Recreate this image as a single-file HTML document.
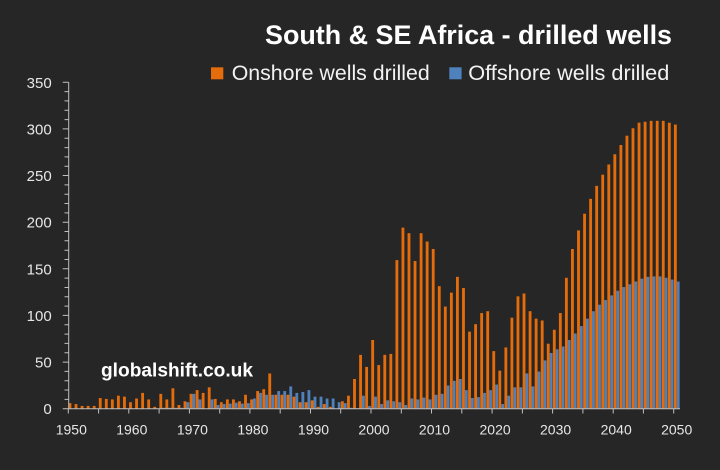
<!DOCTYPE html>
<html><head><meta charset="utf-8"><style>
html,body{margin:0;padding:0;background:#262626;}
svg{display:block;}
</style></head><body>
<svg width="720" height="470" viewBox="0 0 720 470" xmlns="http://www.w3.org/2000/svg" font-family="Liberation Sans, Arial, sans-serif">
<rect width="720" height="470" fill="#262626"/>
<text x="265" y="44" font-size="27" font-weight="bold" fill="#ffffff" textLength="407" lengthAdjust="spacingAndGlyphs">South &amp; SE Africa - drilled wells</text>
<rect x="211" y="67.3" width="12.3" height="12" fill="#E46C0A"/>
<text x="231.7" y="80" font-size="21.5" fill="#f2f2f2" textLength="198" lengthAdjust="spacingAndGlyphs">Onshore wells drilled</text>
<rect x="449.3" y="67.3" width="12.3" height="12" fill="#4F81BD"/>
<text x="468.3" y="80" font-size="21.5" fill="#f2f2f2" textLength="201" lengthAdjust="spacingAndGlyphs">Offshore wells drilled</text>

<text x="101" y="376.7" font-size="19" font-weight="bold" fill="#ffffff" textLength="152" lengthAdjust="spacingAndGlyphs">globalshift.co.uk</text>

<g transform="translate(68.3,408.7) scale(6.054,-0.9286)">
<g fill="#4F81BD">
<rect x="15.51" width="0.47" height="1"/><rect x="16.51" width="0.47" height="1"/><rect x="17.51" width="0.47" height="1"/><rect x="18.51" width="0.47" height="1"/>
<rect x="19.51" width="0.47" height="7"/><rect x="20.51" width="0.47" height="16"/><rect x="21.51" width="0.47" height="10"/>
<rect x="23.51" width="0.47" height="10"/><rect x="24.51" width="0.47" height="4"/><rect x="25.51" width="0.47" height="5"/><rect x="26.51" width="0.47" height="5.5"/>
<rect x="27.51" width="0.47" height="6.5"/><rect x="28.51" width="0.47" height="5.5"/><rect x="29.51" width="0.47" height="6"/><rect x="30.51" width="0.47" height="11"/>
<rect x="31.51" width="0.47" height="17"/><rect x="32.51" width="0.47" height="15"/><rect x="33.51" width="0.47" height="15"/><rect x="34.51" width="0.47" height="19"/>
<rect x="35.51" width="0.47" height="19"/><rect x="36.51" width="0.47" height="24"/><rect x="37.51" width="0.47" height="17"/><rect x="38.51" width="0.47" height="18"/>
<rect x="39.51" width="0.47" height="20"/><rect x="40.51" width="0.47" height="13"/><rect x="41.51" width="0.47" height="13"/><rect x="42.51" width="0.47" height="11"/>
<rect x="43.51" width="0.47" height="11"/><rect x="44.51" width="0.47" height="7"/><rect x="45.51" width="0.47" height="6"/><rect x="46.51" width="0.47" height="1"/>
<rect x="47.51" width="0.47" height="0.5"/><rect x="48.51" width="0.47" height="14"/><rect x="49.51" width="0.47" height="3"/><rect x="50.51" width="0.47" height="13"/>
<rect x="51.51" width="0.47" height="5"/><rect x="52.51" width="0.47" height="9"/><rect x="53.51" width="0.47" height="8"/><rect x="54.51" width="0.47" height="7"/>
<rect x="55.51" width="0.47" height="4"/><rect x="56.51" width="0.47" height="11"/><rect x="57.51" width="0.47" height="10"/><rect x="58.51" width="0.47" height="12"/>
<rect x="59.51" width="0.47" height="10"/><rect x="60.51" width="0.47" height="15"/><rect x="61.51" width="0.47" height="16"/><rect x="62.51" width="0.47" height="25"/>
<rect x="63.51" width="0.47" height="30"/><rect x="64.51" width="0.47" height="32"/><rect x="65.51" width="0.47" height="20"/><rect x="66.51" width="0.47" height="11.5"/>
<rect x="67.51" width="0.47" height="12.5"/><rect x="68.51" width="0.47" height="17"/><rect x="69.51" width="0.47" height="20"/><rect x="70.51" width="0.47" height="26"/>
<rect x="71.51" width="0.47" height="5"/><rect x="72.51" width="0.47" height="14"/><rect x="73.51" width="0.47" height="23"/><rect x="74.51" width="0.47" height="23"/>
<rect x="75.51" width="0.47" height="38"/><rect x="76.51" width="0.47" height="24"/><rect x="77.51" width="0.47" height="40"/><rect x="78.51" width="0.47" height="52"/>
<rect x="79.51" width="0.47" height="60"/><rect x="80.51" width="0.47" height="64"/><rect x="81.51" width="0.47" height="67"/><rect x="82.51" width="0.47" height="74"/>
<rect x="83.51" width="0.47" height="81"/><rect x="84.51" width="0.47" height="89"/><rect x="85.51" width="0.47" height="97"/><rect x="86.51" width="0.47" height="105"/>
<rect x="87.51" width="0.47" height="112"/><rect x="88.51" width="0.47" height="117"/><rect x="89.51" width="0.47" height="122"/><rect x="90.51" width="0.47" height="127"/>
<rect x="91.51" width="0.47" height="131"/><rect x="92.51" width="0.47" height="134"/><rect x="93.51" width="0.47" height="137"/><rect x="94.51" width="0.47" height="140"/>
<rect x="95.51" width="0.47" height="142"/><rect x="96.51" width="0.47" height="142.5"/><rect x="97.51" width="0.47" height="142.5"/><rect x="98.51" width="0.47" height="141"/>
<rect x="99.51" width="0.47" height="139"/><rect x="100.51" width="0.47" height="137"/>
</g>
<g fill="#E46C0A">
<rect x="0.04" width="0.47" height="6"/><rect x="1.04" width="0.47" height="5"/><rect x="2.04" width="0.47" height="3"/><rect x="3.04" width="0.47" height="3"/>
<rect x="4.04" width="0.47" height="3"/><rect x="5.04" width="0.47" height="11.5"/><rect x="6.04" width="0.47" height="10.5"/><rect x="7.04" width="0.47" height="10"/>
<rect x="8.04" width="0.47" height="14"/><rect x="9.04" width="0.47" height="13"/><rect x="10.04" width="0.47" height="7"/><rect x="11.04" width="0.47" height="11"/>
<rect x="12.04" width="0.47" height="17"/><rect x="13.04" width="0.47" height="10"/><rect x="14.04" width="0.47" height="2"/><rect x="15.04" width="0.47" height="16"/>
<rect x="16.04" width="0.47" height="10"/><rect x="17.04" width="0.47" height="22"/><rect x="18.04" width="0.47" height="4"/><rect x="19.04" width="0.47" height="8"/>
<rect x="20.04" width="0.47" height="16"/><rect x="21.04" width="0.47" height="20"/><rect x="22.04" width="0.47" height="17"/><rect x="23.04" width="0.47" height="23"/>
<rect x="24.04" width="0.47" height="10.5"/><rect x="25.04" width="0.47" height="7"/><rect x="26.04" width="0.47" height="10"/><rect x="27.04" width="0.47" height="10"/>
<rect x="28.04" width="0.47" height="8"/><rect x="29.04" width="0.47" height="15"/><rect x="30.04" width="0.47" height="10"/><rect x="31.04" width="0.47" height="19"/>
<rect x="32.04" width="0.47" height="21"/><rect x="33.04" width="0.47" height="38"/><rect x="34.04" width="0.47" height="15"/><rect x="35.04" width="0.47" height="15"/>
<rect x="36.04" width="0.47" height="15"/><rect x="37.04" width="0.47" height="13"/><rect x="38.04" width="0.47" height="7"/><rect x="39.04" width="0.47" height="7"/>
<rect x="40.04" width="0.47" height="9"/><rect x="41.04" width="0.47" height="2"/><rect x="42.04" width="0.47" height="5"/><rect x="43.04" width="0.47" height="2"/>
<rect x="45.04" width="0.47" height="8"/><rect x="46.04" width="0.47" height="14"/><rect x="47.04" width="0.47" height="32"/>
<rect x="48.04" width="0.47" height="58"/><rect x="49.04" width="0.47" height="45"/><rect x="50.04" width="0.47" height="74"/><rect x="51.04" width="0.47" height="47"/>
<rect x="52.04" width="0.47" height="58"/><rect x="53.04" width="0.47" height="59"/><rect x="54.04" width="0.47" height="160"/><rect x="55.04" width="0.47" height="195"/>
<rect x="56.04" width="0.47" height="189"/><rect x="57.04" width="0.47" height="159"/><rect x="58.04" width="0.47" height="189"/><rect x="59.04" width="0.47" height="180"/>
<rect x="60.04" width="0.47" height="172"/><rect x="61.04" width="0.47" height="132"/><rect x="62.04" width="0.47" height="110"/><rect x="63.04" width="0.47" height="125"/>
<rect x="64.04" width="0.47" height="142"/><rect x="65.04" width="0.47" height="130"/><rect x="66.04" width="0.47" height="83"/><rect x="67.04" width="0.47" height="91"/>
<rect x="68.04" width="0.47" height="103"/><rect x="69.04" width="0.47" height="105"/><rect x="70.04" width="0.47" height="62"/><rect x="71.04" width="0.47" height="41"/>
<rect x="72.04" width="0.47" height="66"/><rect x="73.04" width="0.47" height="98"/><rect x="74.04" width="0.47" height="121"/><rect x="75.04" width="0.47" height="124"/>
<rect x="76.04" width="0.47" height="105"/><rect x="77.04" width="0.47" height="97"/><rect x="78.04" width="0.47" height="95"/><rect x="79.04" width="0.47" height="70"/>
<rect x="80.04" width="0.47" height="85"/><rect x="81.04" width="0.47" height="103"/><rect x="82.04" width="0.47" height="141"/><rect x="83.04" width="0.47" height="172"/>
<rect x="84.04" width="0.47" height="192"/><rect x="85.04" width="0.47" height="210"/><rect x="86.04" width="0.47" height="226"/><rect x="87.04" width="0.47" height="240"/>
<rect x="88.04" width="0.47" height="252"/><rect x="89.04" width="0.47" height="263"/><rect x="90.04" width="0.47" height="274"/><rect x="91.04" width="0.47" height="284"/>
<rect x="92.04" width="0.47" height="294"/><rect x="93.04" width="0.47" height="302"/><rect x="94.04" width="0.47" height="308"/><rect x="95.04" width="0.47" height="309"/>
<rect x="96.04" width="0.47" height="310"/><rect x="97.04" width="0.47" height="310"/><rect x="98.04" width="0.47" height="310"/><rect x="99.04" width="0.47" height="308"/>
<rect x="100.04" width="0.47" height="306"/>
</g>
</g>

<g stroke="#bfbfbf" stroke-width="1" fill="none">
<line x1="68.7" y1="82.3" x2="68.7" y2="408.7"/>
<line x1="68.3" y1="408.7" x2="680" y2="408.7"/>
<path d="M62.7 408.7H68.7M64.5 399.4H68.7M64.5 390H68.7M64.5 380.7H68.7M64.5 371.4H68.7M62.7 362.1H68.7M64.5 352.7H68.7M64.5 343.4H68.7M64.5 334.1H68.7M64.5 324.8H68.7M62.7 315.4H68.7M64.5 306.1H68.7M64.5 296.8H68.7M64.5 287.5H68.7M64.5 278.1H68.7M62.7 268.8H68.7M64.5 259.5H68.7M64.5 250.2H68.7M64.5 240.8H68.7M64.5 231.5H68.7M62.7 222.2H68.7M64.5 212.9H68.7M64.5 203.5H68.7M64.5 194.2H68.7M64.5 184.9H68.7M62.7 175.5H68.7M64.5 166.2H68.7M64.5 156.9H68.7M64.5 147.6H68.7M64.5 138.2H68.7M62.7 128.9H68.7M64.5 119.6H68.7M64.5 110.3H68.7M64.5 100.9H68.7M64.5 91.6H68.7M62.7 82.3H68.7"/>
<path d="M68.3 408.7V413.5M98.6 408.7V413.5M128.8 408.7V413.5M159.1 408.7V413.5M189.4 408.7V413.5M219.7 408.7V413.5M249.9 408.7V413.5M280.2 408.7V413.5M310.5 408.7V413.5M340.7 408.7V413.5M371 408.7V413.5M401.3 408.7V413.5M431.5 408.7V413.5M461.8 408.7V413.5M492.1 408.7V413.5M522.4 408.7V413.5M552.6 408.7V413.5M582.9 408.7V413.5M613.2 408.7V413.5M643.4 408.7V413.5M673.7 408.7V413.5"/>
</g>

<g font-size="15" fill="#e6e6e6" text-anchor="end">
<text x="51.7" y="414.2">0</text>
<text x="51.7" y="367.6">50</text>
<text x="51.7" y="320.9">100</text>
<text x="51.7" y="274.3">150</text>
<text x="51.7" y="227.7">200</text>
<text x="51.7" y="181">250</text>
<text x="51.7" y="134.4">300</text>
<text x="51.7" y="87.8">350</text>
</g>
<g font-size="14" fill="#e6e6e6" text-anchor="middle">
<text x="71.3" y="434.3">1950</text>
<text x="131.8" y="434.3">1960</text>
<text x="192.4" y="434.3">1970</text>
<text x="252.9" y="434.3">1980</text>
<text x="313.5" y="434.3">1990</text>
<text x="374" y="434.3">2000</text>
<text x="434.5" y="434.3">2010</text>
<text x="495.1" y="434.3">2020</text>
<text x="555.6" y="434.3">2030</text>
<text x="616.2" y="434.3">2040</text>
<text x="676.7" y="434.3">2050</text>
</g>
</svg>
</body></html>
